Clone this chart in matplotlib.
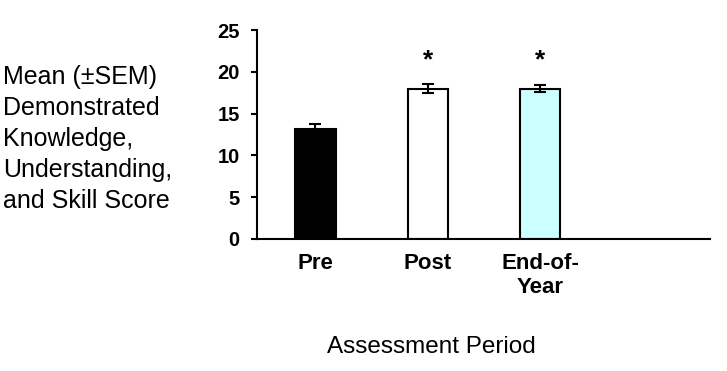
import numpy as np
import matplotlib.pyplot as plt

plt.rcParams['font.family'] = ['Liberation Sans', 'DejaVu Sans']

# data
periods = ['Pre', 'Post', 'End-of-\nYear']
means = [13.2, 18.0, 18.0]
sems = [0.6, 0.5, 0.4]
signif = [False, True, True]
bar_colors = ['black', 'white', '#ccffff']
yticks = [0, 5, 10, 15, 20, 25]

fig = plt.figure(figsize=(7.27, 3.71), dpi=100)
ax = fig.add_axes([257/727, 1 - 239/371, (710 - 257)/727, (239 - 30)/371])

x = np.arange(len(periods))
ax.bar(x, means, width=0.36, color=bar_colors, edgecolor='black', linewidth=1.5, zorder=2)
ax.errorbar(x, means, yerr=sems, fmt='none', ecolor='black', elinewidth=1.5,
            capsize=4.5, capthick=1.5, zorder=3)

# significance markers
for xi, m, s, star in zip(x, means, sems, signif):
    if star:
        ax.text(xi, 21.4, '*', ha='center', va='center', fontsize=19, fontweight='bold')

ax.set_xlim(-0.52, 3.51)
ax.set_ylim(0, 25)
ax.set_yticks(yticks)
ax.set_xticks(x)
ax.set_xticklabels(periods, fontsize=16, fontweight='bold', linespacing=1.2)
for lbl in ax.get_yticklabels():
    lbl.set_fontsize(14.5)
    lbl.set_fontweight('bold')

for side in ['top', 'right']:
    ax.spines[side].set_visible(False)
for side in ['left', 'bottom']:
    ax.spines[side].set_linewidth(1.5)
ax.tick_params(axis='y', length=4.5, width=1.5, pad=8, direction='out')
ax.tick_params(axis='x', length=0, pad=10)

fig.text(3/727, 1 - 139/371,
         'Mean (\u00b1SEM)\nDemonstrated\nKnowledge,\nUnderstanding,\nand Skill Score',
         ha='left', va='center', fontsize=18, linespacing=1.38)
fig.text(431/727, 1 - 347/371, 'Assessment Period', ha='center', va='center', fontsize=17.5)

plt.savefig('out.png', dpi=100)
